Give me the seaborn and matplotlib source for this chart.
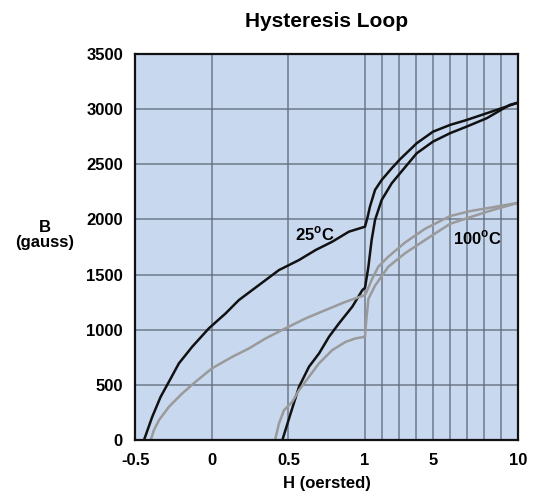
import numpy as np
import matplotlib
matplotlib.use("Agg")
import matplotlib.pyplot as plt
import seaborn as sns

# H (oersted) / B (gauss)
h_25_up = [-0.444, -0.39, -0.335, -0.281, -0.216, -0.129, -0.02, 0.09, 0.176, 0.307, 0.438,
           0.569, 0.678, 0.786, 0.895, 1.0,
           1.16, 1.29, 1.59, 1.98, 2.57, 3.06, 4.04, 5.0, 6.0, 6.98, 8.16, 10]
b_25_up = [0, 211, 393, 529, 695, 846, 1013, 1149, 1269, 1405, 1541,
           1632, 1723, 1798, 1889, 1934,
           2025, 2115, 2267, 2357, 2463, 2545, 2690, 2795, 2856, 2901, 2962, 3058]

h_25_down = [0.46, 0.514, 0.569, 0.634, 0.70, 0.765, 0.83, 0.917, 0.983, 1.0,
             1.2, 1.39, 1.59, 1.98, 2.57, 3.06, 4.04, 5.0, 6.0, 6.98, 8.16, 9.5, 10]
b_25_down = [0, 242, 483, 665, 786, 937, 1058, 1209, 1360, 1380,
             1571, 1813, 1995, 2176, 2327, 2418, 2599, 2705, 2781, 2841, 2917, 3037, 3058]

h_100_up = [-0.40, -0.379, -0.346, -0.281, -0.194, -0.107, 0.0, 0.133, 0.242, 0.351,
            0.48, 0.612, 0.743, 0.874, 1.0,
            1.1, 1.39, 1.78, 2.37, 3.35, 4.53, 6.0, 7.18, 8.5, 10]
b_100_up = [0, 91, 181, 302, 423, 529, 650, 755, 831, 922,
            1013, 1103, 1179, 1254, 1315,
            1345, 1451, 1571, 1662, 1790, 1915, 2030, 2075, 2110, 2150]

h_100_down = [0.412, 0.438, 0.471, 0.525, 0.569, 0.634, 0.699, 0.786, 0.874, 0.939, 1.0,
              1.06, 1.2, 1.59, 2.37, 3.35, 4.53, 6.0, 7.18, 8.5, 10]
b_100_down = [0, 151, 272, 347, 453, 574, 695, 816, 891, 922, 937,
              1060, 1280, 1400, 1571, 1693, 1813, 1960, 2020, 2085, 2150]

grid_x = [-0.5, 0, 0.5, 1, 2, 3, 4, 5, 6, 7, 8, 9, 10]
tick_labels = {-0.5: "-0.5", 0: "0", 0.5: "0.5", 1: "1", 5: "5", 10: "10"}
y_ticks = [0, 500, 1000, 1500, 2000, 2500, 3000, 3500]


# linear from -0.5 to 1, then 1..10 squeezed into one unit
def fwd(x):
    x = np.asarray(x, dtype=float)
    return np.where(x <= 1, x, 1 + (x - 1) / 9.0)


def inv(u):
    u = np.asarray(u, dtype=float)
    return np.where(u <= 1, u, 1 + (u - 1) * 9.0)


sns.set_style("white")
plt.rcParams['font.family'] = ['Liberation Sans', 'DejaVu Sans']
plt.rcParams['font.weight'] = 'bold'
plt.rcParams['text.color'] = 'black'
plt.rcParams['axes.labelcolor'] = 'black'
plt.rcParams['xtick.color'] = 'black'
plt.rcParams['ytick.color'] = 'black'
plt.rcParams['mathtext.fontset'] = 'custom'
plt.rcParams['mathtext.rm'] = 'Liberation Sans:bold'
plt.rcParams['mathtext.bf'] = 'Liberation Sans:bold'

fig = plt.figure(figsize=(5.33, 4.94), dpi=100)
ax = fig.add_axes([0.254, 0.109, 0.718, 0.782])
ax.set_facecolor('#c8d8ef')
ax.set_xscale('function', functions=(fwd, inv))

sns.lineplot(x=h_25_up, y=b_25_up, sort=False, estimator=None, color='#111111', lw=1.8, ax=ax)
sns.lineplot(x=h_25_down, y=b_25_down, sort=False, estimator=None, color='#111111', lw=1.8, ax=ax)
sns.lineplot(x=h_100_up, y=b_100_up, sort=False, estimator=None, color='#9a9a9a', lw=1.8, ax=ax)
sns.lineplot(x=h_100_down, y=b_100_down, sort=False, estimator=None, color='#9a9a9a', lw=1.8, ax=ax)

ax.set_xlim(-0.5, 10)
ax.set_ylim(0, 3500)
ax.set_xticks(grid_x)
ax.set_xticklabels([tick_labels.get(g, "") for g in grid_x])
ax.set_yticks(y_ticks)
ax.set_yticklabels([str(v) for v in y_ticks])
ax.tick_params(length=0, labelsize=12, pad=9)
for lab in ax.get_xticklabels() + ax.get_yticklabels():
    lab.set_fontweight('bold')
ax.grid(True, color='#5f6b7a', lw=1.1, alpha=0.85)
ax.set_axisbelow(True)
for s in ax.spines.values():
    s.set_color('#111111')
    s.set_linewidth(1.6)

ax.set_title("Hysteresis Loop", fontsize=15, fontweight='bold', pad=19)
ax.set_xlabel("H (oersted)", fontsize=12, fontweight='bold', labelpad=6)
ax.set_ylabel("B\n(gauss)", fontsize=12, fontweight='bold', rotation=0,
              ha='center', va='center', linespacing=1.0)
ax.yaxis.set_label_coords(-0.237, 0.531)

ax.text(0.673, 1868, r"25$^{\mathrm{o}}$C", fontsize=12, fontweight='bold', ha='center', va='center')
ax.text(7.6, 1831, r"100$^{\mathrm{o}}$C", fontsize=12, fontweight='bold', ha='center', va='center')

fig.savefig("out.png", dpi=100)
